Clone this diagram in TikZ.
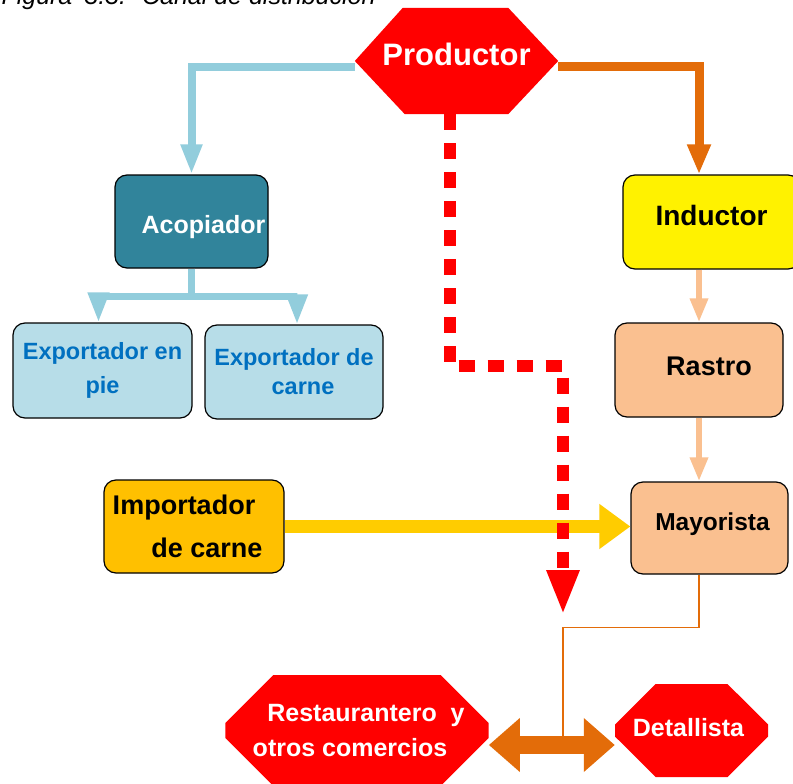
\documentclass[tikz,border=0pt]{standalone}
\usepackage{fontspec}
\setmainfont{Liberation Sans}
\usetikzlibrary{positioning,arrows.meta,shapes.misc,backgrounds}
\definecolor{prodred}{HTML}{FF0000}
\definecolor{lineblue}{HTML}{92CDDC}
\definecolor{paleblue}{HTML}{B7DDE8}
\definecolor{tealbox}{HTML}{31849B}
\definecolor{textblue}{HTML}{0070C0}
\definecolor{darkorange}{HTML}{E36C09}
\definecolor{peach}{HTML}{FAC090}
\definecolor{amber}{HTML}{FFC000}
\definecolor{gold}{HTML}{FFCC00}
\begin{document}
\begin{tikzpicture}[x=1pt,y=-1pt]
		\tikzstyle{roundbox} = [rectangle, rounded corners=12pt, draw=black, line width=1.2pt, align=center, inner sep=0pt];
		\tikzstyle{prodbox} = [rectangle, text=white, inner sep=0pt, minimum width=203pt, minimum height=106pt, font=\bfseries\fontsize{31}{34}\selectfont];
		\tikzstyle{octbox} = [chamfered rectangle, fill=prodred, text=white, align=center, inner sep=0pt, chamfered rectangle ysep=28pt];
		\tikzstyle{bluearrow} = [draw=lineblue, line width=8pt, -{Triangle[width=20pt,length=30pt]}];
		\tikzstyle{orangearrow} = [draw=darkorange, line width=9pt, -{Triangle[width=22pt,length=30pt]}];
		\tikzstyle{peacharrow} = [draw=peach, line width=6.5pt, -{Triangle[width=17pt,length=24pt]}];
		\tikzstyle{yellowarrow} = [draw=gold, line width=13pt, -{Triangle[width=43pt,length=31pt]}];
		\tikzstyle{reddash} = [draw=prodred, line width=12pt, dash pattern=on 16pt off 13pt, -{Triangle[width=30pt,length=45pt]}];
		\tikzstyle{dblarrow} = [draw=darkorange, line width=18pt, {Triangle[width=52pt,length=31pt]}-{Triangle[width=52pt,length=31pt]}];
		\useasboundingbox (0,0) rectangle (793,784);
		\node (caption) [anchor=base west, font=\itshape\fontsize{25}{28}\selectfont] at (-2,5) {Figura\hspace{12pt}3.3.\hspace{16pt}Canal de distribución};
		\node (productor) [prodbox, text height=22pt, text depth=12.4pt] at (456.5,61) {Productor};
		\node (acopiador) [roundbox, fill=tealbox, text=white, minimum width=153pt, minimum height=93pt, text height=30pt, text depth=7pt, font=\bfseries\fontsize{25}{30}\selectfont] at (191.5,221.5) {\hspace*{24pt}Acopiador};
		\node (inductor) [roundbox, fill=yellow, minimum width=177pt, minimum height=94pt, text height=20pt, text depth=14pt, font=\bfseries\fontsize{28}{32}\selectfont] at (711.5,222) {Inductor};
		\node (expie) [roundbox, fill=paleblue, text=textblue, minimum width=179pt, minimum height=95pt, font=\bfseries\fontsize{23.5}{34}\selectfont] at (102.5,370.5) {Exportador en\\pie};
		\node (excarne) [roundbox, fill=paleblue, text=textblue, minimum width=178pt, minimum height=94pt, font=\bfseries\fontsize{23.5}{29}\selectfont] at (294,372) {Exportador de\\\hspace*{18pt}carne};
		\node (rastro) [roundbox, fill=peach, minimum width=168pt, minimum height=94pt, text height=20pt, text depth=8.8pt, font=\bfseries\fontsize{27}{30}\selectfont] at (699,370) {\hspace*{20pt}Rastro};
		\node (mayorista) [roundbox, fill=peach, minimum width=157pt, minimum height=92pt, text height=18pt, text depth=12.8pt, font=\bfseries\fontsize{24.5}{28}\selectfont] at (709.5,528) {\hspace*{6pt}Mayorista};
		\node (importador) [roundbox, fill=amber, minimum width=180pt, minimum height=93pt, font=\bfseries\fontsize{27}{43}\selectfont] at (194,526.5) {Importador\hspace*{20pt}\\\hspace*{26pt}de carne};
		\node (restaurantero) [octbox, chamfered rectangle xsep=24pt, chamfered rectangle ysep=24pt, minimum width=256pt, minimum height=111pt, font=\bfseries\fontsize{25}{35}\selectfont] at (357,730.5) {\hspace*{18pt}Restaurantero\ \ y\\otros comercios\hspace*{14pt}};
		\node (detallista) [octbox, chamfered rectangle xsep=18pt, minimum width=153pt, minimum height=93pt, text height=18pt, text depth=7pt, font=\bfseries\fontsize{25}{30}\selectfont] at (691.5,730.5) {\hspace*{-6pt}Detallista};
		\begin{scope}[on background layer]
		\fill[white] (0,0) rectangle (793,784);
		\fill[prodred] (productor.west) -- ([xshift=48pt]productor.north west) -- ([xshift=-50pt]productor.north east) -- (productor.east) -- ([xshift=-50pt]productor.south east) -- ([xshift=50pt]productor.south west) -- cycle;
		\end{scope}
		\coordinate (redturn) at (563,366);
		\coordinate (redend) at (563,615);
		\coordinate (dblmid) at (563,745);
		\draw[bluearrow] ([yshift=-6pt]productor.west) -| (acopiador.north);
		\draw[orangearrow] ([yshift=-6pt]productor.east) -| (rastro.north |- inductor.north);
		\draw[bluearrow, line width=7pt] (acopiador.south) -- ++(0,28) -| ([xshift=-4pt]expie.north);
		\draw[bluearrow, line width=7pt] (acopiador.south) -- ++(0,28) -| ([xshift=3pt]excarne.north);
		\draw[peacharrow] (rastro.north |- inductor.south) -- (rastro.north);
		\draw[peacharrow] (rastro.south) -- (rastro.south |- mayorista.north);
		\draw[yellowarrow] (importador.east) -- (importador.east -| mayorista.west);
		\draw[reddash] ([xshift=-7pt]productor.south) |- (redturn) -- (redend);
		\draw[darkorange, line width=1.6pt] (rastro.south |- mayorista.south) -- ++(0,53) -| ([yshift=-9pt]dblmid);
		\draw[dblarrow] (restaurantero.east |- dblmid) -- (detallista.west |- dblmid);
\end{tikzpicture}
\end{document}
